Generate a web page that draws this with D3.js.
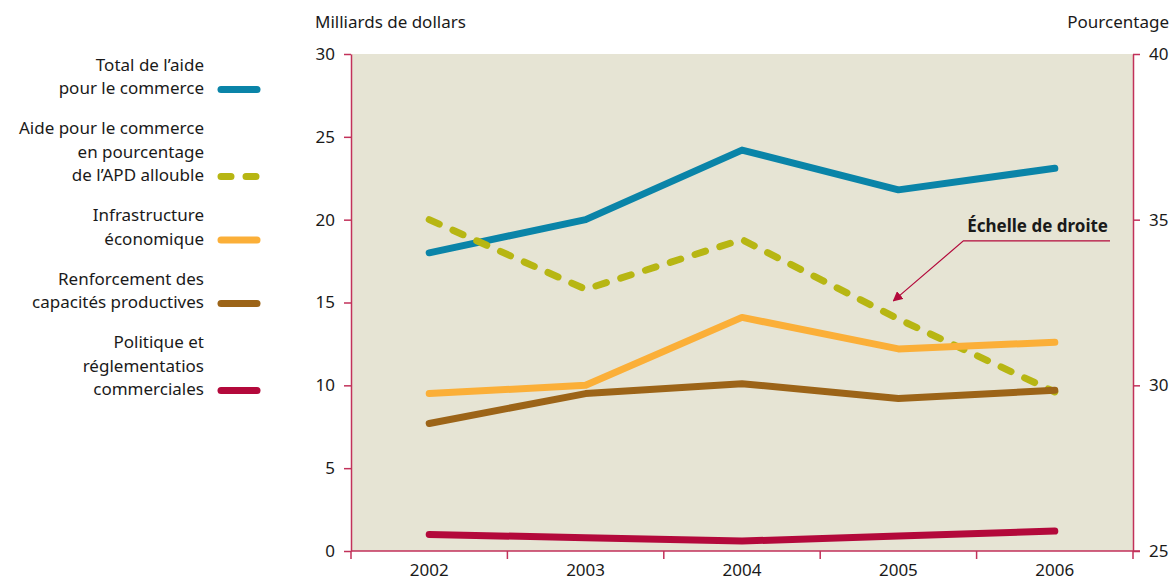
<!DOCTYPE html>
<html>
<head>
<meta charset="utf-8">
<script src="https://cdn.jsdelivr.net/npm/d3@7"></script>
<style>
  body { margin: 0; background: #fff; }
  text { font-family: "Noto Sans", "Open Sans", sans-serif; fill: #1a1a1a; }
</style>
</head>
<body>
<div id="chart"></div>
<script>
// data
let years = ["2002", "2003", "2004", "2005", "2006"];
let totalAide = [18.0, 20.0, 24.2, 21.8, 23.1];
let pctApd = [35.0, 32.9, 34.4, 32.0, 29.8];
let infrastructure = [9.5, 10.0, 14.1, 12.2, 12.6];
let renforcement = [7.7, 9.5, 10.1, 9.2, 9.7];
let politique = [1.0, 0.8, 0.6, 0.9, 1.2];
let leftTicks = [0, 5, 10, 15, 20, 25, 30];
let rightTicks = [25, 30, 35, 40];

let series = [
    { name: ["Total de l\u2019aide", "pour le commerce"], values: totalAide, color: "#0a84a8", right: false },
    { name: ["Aide pour le commerce", "en pourcentage", "de l\u2019APD allouble"], values: pctApd, color: "#b7b613", right: true, dashed: true },
    { name: ["Infrastructure", "\u00e9conomique"], values: infrastructure, color: "#fbaf38", right: false },
    { name: ["Renforcement des", "capacit\u00e9s productives"], values: renforcement, color: "#9c6418", right: false },
    { name: ["Politique et", "r\u00e9glementatios", "commerciales"], values: politique, color: "#b3093b", right: false }
];

let width = 1175;
let height = 581;
let axisColor = "#c2315a";
let plot = { left: 351, right: 1133, top: 54, bottom: 551 };

let svg = d3.select("#chart").append("svg")
    .attr("width", width)
    .attr("height", height);

let x = d3.scaleBand().domain(years).range([plot.left, plot.right]);
let yLeft = d3.scaleLinear().domain([0, 30]).range([plot.bottom, plot.top]);
let yRight = d3.scaleLinear().domain([25, 40]).range([plot.bottom, plot.top]);

svg.append("rect")
    .attr("x", plot.left)
    .attr("y", plot.top)
    .attr("width", plot.right - plot.left)
    .attr("height", plot.bottom - plot.top)
    .attr("fill", "#e6e4d4");

// axes
let leftAxis = svg.append("g")
    .attr("transform", `translate(${plot.left},0)`)
    .call(d3.axisLeft(yLeft).tickValues(leftTicks).tickSize(7).tickPadding(9).tickSizeOuter(0));
let rightAxis = svg.append("g")
    .attr("transform", `translate(${plot.right},0)`)
    .call(d3.axisRight(yRight).tickValues(rightTicks).tickSize(7).tickPadding(9).tickSizeOuter(0));
let bottomAxis = svg.append("g")
    .attr("transform", `translate(0,${plot.bottom})`)
    .call(d3.axisBottom(x).tickSize(0).tickPadding(13).tickSizeOuter(0));

// year separators
bottomAxis.selectAll(".sep")
    .data(years.concat(["end"]))
    .enter().append("line")
    .attr("class", "sep")
    .attr("x1", (d, i) => i < years.length ? x(d) : x(years[years.length - 1]) + x.bandwidth())
    .attr("x2", (d, i) => i < years.length ? x(d) : x(years[years.length - 1]) + x.bandwidth())
    .attr("y1", 0)
    .attr("y2", 8)
    .attr("stroke", axisColor)
    .attr("stroke-width", 1.5);

[leftAxis, rightAxis, bottomAxis].forEach(a => {
    a.selectAll(".domain").attr("stroke", axisColor).attr("stroke-width", 1.5);
    a.selectAll(".tick line").attr("stroke", axisColor).attr("stroke-width", 1.5);
    a.selectAll(".tick text").style("font-size", "17px").attr("fill", "#1a1a1a");
});
bottomAxis.select(".domain").attr("d", `M${plot.left},0H${plot.right + 7}`);

svg.append("text")
    .attr("x", 315)
    .attr("y", 28)
    .style("font-size", "17px")
    .text("Milliards de dollars");
svg.append("text")
    .attr("x", 1169)
    .attr("y", 28)
    .attr("text-anchor", "end")
    .style("font-size", "17px")
    .text("Pourcentage");

// lines
series.forEach(s => {
    let y = s.right ? yRight : yLeft;
    let line = d3.line()
        .x((d, i) => x(years[i]) + x.bandwidth() / 2)
        .y(d => y(d));
    svg.append("path")
        .datum(s.values)
        .attr("d", line)
        .attr("fill", "none")
        .attr("stroke", s.color)
        .attr("stroke-width", 7)
        .attr("stroke-linecap", "round")
        .attr("stroke-linejoin", "round")
        .attr("stroke-dasharray", s.dashed ? "11,15" : null);
});

// annotation "Échelle de droite", placed on the right-hand scale
let tipX = x("2005") + x.bandwidth() / 2 - 5;
let tipY = yRight(32.55);
let elbowX = tipX + 70;
let elbowY = yRight(34.36);
let endX = plot.right - 23;
svg.append("defs").append("marker")
    .attr("id", "arrow")
    .attr("viewBox", "0 0 10 10")
    .attr("refX", 9)
    .attr("refY", 5)
    .attr("markerWidth", 10)
    .attr("markerHeight", 10)
    .attr("markerUnits", "userSpaceOnUse")
    .attr("orient", "auto")
    .append("path")
    .attr("d", "M0,0L10,5L0,10z")
    .attr("fill", "#b3093b");
svg.append("path")
    .attr("d", `M${endX},${elbowY}H${elbowX}L${tipX},${tipY}`)
    .attr("fill", "none")
    .attr("stroke", "#b3093b")
    .attr("stroke-width", 1.2)
    .attr("marker-end", "url(#arrow)");
svg.append("text")
    .attr("x", endX - 2)
    .attr("y", elbowY - 9)
    .attr("text-anchor", "end")
    .style("font-size", "17px")
    .style("font-weight", "bold")
    .text("\u00c9chelle de droite");

// legend
let legendRight = 204;
let lineHeight = 23.5;
let groupGap = 40;
let yPos = 65;
series.forEach(s => {
    let g = svg.append("g");
    s.name.forEach((t, i) => {
        g.append("text")
            .attr("x", legendRight)
            .attr("y", yPos + i * lineHeight)
            .attr("dy", "0.35em")
            .attr("text-anchor", "end")
            .style("font-size", "17px")
            .text(t);
    });
    let last = yPos + (s.name.length - 1) * lineHeight;
    g.append("line")
        .attr("x1", 221)
        .attr("x2", 257)
        .attr("y1", last + 1)
        .attr("y2", last + 1)
        .attr("stroke", s.color)
        .attr("stroke-width", 7)
        .attr("stroke-linecap", "round")
        .attr("stroke-dasharray", s.dashed ? "10,15" : null);
    yPos = last + groupGap;
});
</script>
</body>
</html>
